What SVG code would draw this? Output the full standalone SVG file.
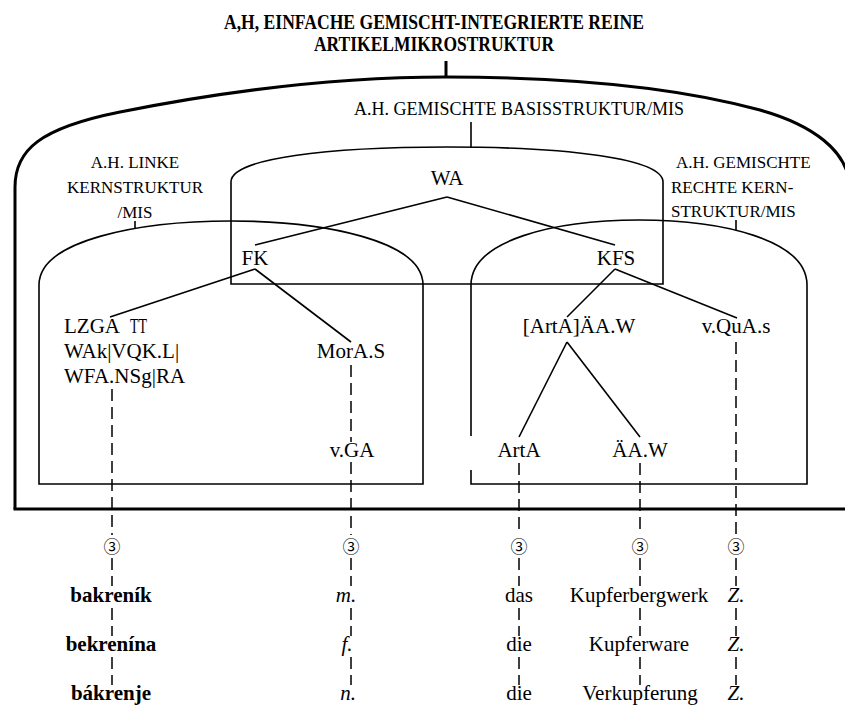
<svg xmlns="http://www.w3.org/2000/svg" width="845" height="706" viewBox="0 0 845 706">
  <style>
    text { font-family: "Liberation Serif", "Times New Roman", serif; fill: #000; }
    .title { font-size: 20px; font-weight: bold; text-anchor: middle; }
    .lbl { font-size: 17px; }
    .mid { text-anchor: middle; }
    .node { font-size: 21px; }
    .ent { font-size: 21px; text-anchor: middle; }
    .bold { font-weight: bold; }
    .it { font-style: italic; }
    .num { font-family: "Noto Sans CJK JP", "DejaVu Sans", sans-serif; font-size: 17px; text-anchor: middle; }
    .outer { fill: none; stroke: #000; stroke-width: 3; }
    .box { fill: none; stroke: #000; stroke-width: 1.6; }
    .edge { fill: none; stroke: #000; stroke-width: 1.6; }
    .dash { fill: none; stroke: #000; stroke-width: 1.5; stroke-dasharray: 12 6; }
  </style>

  <!-- outermost structure: title, thick vault and base line -->
  <g id="microstructure">
    <text class="title" x="434" y="29" textLength="420" lengthAdjust="spacingAndGlyphs">A,H, EINFACHE GEMISCHT-INTEGRIERTE REINE</text>
    <text class="title" x="434" y="51" textLength="240" lengthAdjust="spacingAndGlyphs">ARTIKELMIKROSTRUKTUR</text>
    <line class="outer" x1="446" y1="61" x2="446" y2="78"/>
    <path class="outer" d="M15,509 V187 C15,150 40,128 120,112 C200,96 320,77 446,77 C572,77 680,88 760,110 C810,124 850,150 850,190"/>
    <line class="outer" x1="13.5" y1="509" x2="845" y2="509"/>
  </g>

  <!-- mixed basis structure -->
  <g id="basis-structure">
    <text class="lbl mid" x="519" y="115" style="font-size:18px">A.H. GEMISCHTE BASISSTRUKTUR/MIS</text>
    <line class="box" x1="471" y1="122" x2="471" y2="148"/>
    <path class="box" d="M231,284 V182 C231,158 330,147 447,147 C564,147 663,158 663,182 V284 Z"/>
  </g>

  <!-- left core structure -->
  <g id="left-core">
    <text class="lbl mid" x="135" y="168">A.H. LINKE</text>
    <text class="lbl mid" x="135" y="193">KERNSTRUKTUR</text>
    <text class="lbl mid" x="135" y="218">/MIS</text>
    <line class="box" x1="135" y1="221" x2="135" y2="229"/>
    <path class="box" d="M39,484 V285 C39,240 140,221 231,221 C322,221 423,240 423,285 V484 Z"/>
  </g>

  <!-- right core structure -->
  <g id="right-core">
    <text class="lbl" x="676" y="168">A.H. GEMISCHTE</text>
    <text class="lbl" x="671" y="193">RECHTE KERN-</text>
    <text class="lbl" x="671" y="217">STRUKTUR/MIS</text>
    <line class="box" x1="736" y1="220" x2="736" y2="230"/>
    <path class="box" d="M471,436 V285 C471,240 555,220 639,220 C723,220 807,240 807,285 V484 H471 V470"/>
  </g>

  <!-- tree nodes -->
  <g id="node-wa"><text class="node mid" x="447" y="185">WA</text></g>
  <g id="node-fk"><text class="node mid" x="255" y="265">FK</text></g>
  <g id="node-kfs"><text class="node mid" x="616" y="265">KFS</text></g>
  <g id="node-lemma">
    <text class="node" x="64" y="333">LZGA</text>
    <text class="node" x="130" y="333" textLength="17" lengthAdjust="spacingAndGlyphs">TT</text>
    <text class="node" x="64" y="358">WAk|VQK.L|</text>
    <text class="node" x="64" y="383">WFA.NSg|RA</text>
  </g>
  <g id="node-mora"><text class="node mid" x="351" y="358">MorA.S</text></g>
  <g id="node-vga"><text class="node mid" x="352" y="457">v.GA</text></g>
  <g id="node-arta-aaw"><text class="node mid" x="579" y="333">[ArtA]ÄA.W</text></g>
  <g id="node-vqua"><text class="node mid" x="736" y="333">v.QuA.s</text></g>
  <g id="node-arta"><text class="node mid" x="519" y="457">ArtA</text></g>
  <g id="node-aaw"><text class="node mid" x="640" y="457">ÄA.W</text></g>

  <!-- connectors -->
  <g id="connectors">
    <line class="edge" x1="447" y1="197" x2="255" y2="245"/>
    <line class="edge" x1="447" y1="197" x2="615" y2="245"/>
    <line class="edge" x1="255" y1="269" x2="110" y2="317"/>
    <line class="edge" x1="255" y1="269" x2="351" y2="342"/>
    <line class="edge" x1="615" y1="269" x2="567" y2="317"/>
    <line class="edge" x1="615" y1="269" x2="737" y2="318"/>
    <line class="edge" x1="567" y1="342" x2="519" y2="437"/>
    <line class="edge" x1="567" y1="342" x2="640" y2="437"/>

    <path class="dash" d="M112,389 V535 M112,558 V586 M112,608 V636 M112,657 V685"/>
    <path class="dash" d="M351,365 V442 M351,462 V535 M351,558 V586 M351,608 V636 M351,657 V685"/>
    <path class="dash" d="M519,463 V535 M519,558 V586 M519,608 V636 M519,657 V685"/>
    <path class="dash" d="M640,463 V535 M640,558 V586 M640,608 V636 M640,657 V685"/>
    <path class="dash" d="M736,342 V535 M736,558 V586 M736,608 V636 M736,657 V685"/>
  </g>

  <!-- circled markers -->
  <g id="markers">
    <text class="num" x="112" y="553">③</text>
    <text class="num" x="351" y="553">③</text>
    <text class="num" x="519" y="553">③</text>
    <text class="num" x="640" y="553">③</text>
    <text class="num" x="736" y="553">③</text>
  </g>

  <!-- entries -->
  <g id="entries">
    <text class="ent bold" x="111" y="602">bakreník</text>
    <text class="ent bold" x="111" y="651">bekrenína</text>
    <text class="ent bold" x="111" y="700">bákrenje</text>
    <text class="ent it" x="346" y="602">m.</text>
    <text class="ent it" x="347" y="651">f.</text>
    <text class="ent it" x="348" y="700">n.</text>
    <text class="ent" x="519" y="602">das</text>
    <text class="ent" x="519" y="651">die</text>
    <text class="ent" x="519" y="700">die</text>
    <text class="ent" x="639" y="602">Kupferbergwerk</text>
    <text class="ent" x="639" y="651">Kupferware</text>
    <text class="ent" x="640" y="700">Verkupferung</text>
    <text class="ent it" x="736" y="602">Z.</text>
    <text class="ent it" x="736" y="651">Z.</text>
    <text class="ent it" x="736" y="700">Z.</text>
  </g>
</svg>
